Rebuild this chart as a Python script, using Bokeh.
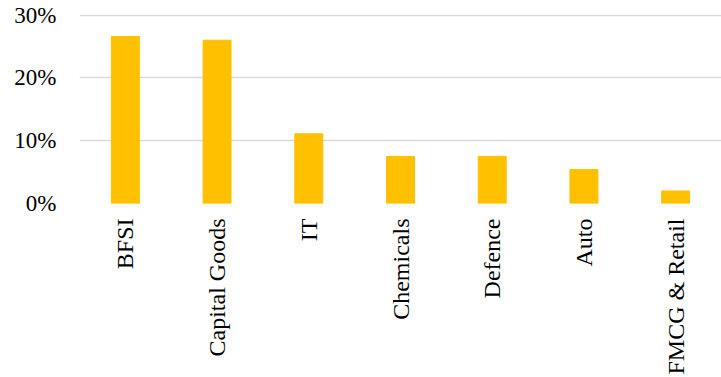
import math
from bokeh.plotting import figure
from bokeh.models import ColumnDataSource, FixedTicker, NumeralTickFormatter, Range1d
from bokeh.embed import file_html
from bokeh.resources import INLINE

sectors = ["BFSI", "Capital Goods", "IT", "Chemicals", "Defence", "Auto", "FMCG & Retail"]
shares = [0.266, 0.260, 0.111, 0.075, 0.075, 0.054, 0.020]
y_ticks = [0.0, 0.1, 0.2, 0.3]

source = ColumnDataSource(data=dict(sector=sectors, share=shares))

p = figure(x_range=sectors, y_range=Range1d(0, 0.301), width=721, height=377,
           output_backend="svg", toolbar_location=None,
           min_border_left=79, min_border_right=0, min_border_top=14, min_border_bottom=0)
p.vbar(x="sector", top="share", width=0.305, source=source,
       fill_color="#FFC000", line_color="#FFC000")

p.x_range.range_padding = 0
p.outline_line_color = None
p.background_fill_color = "white"
p.border_fill_color = "white"

p.xgrid.grid_line_color = None
p.ygrid.grid_line_color = "#d9d9d9"
p.ygrid.grid_line_width = 1.5
p.yaxis.ticker = FixedTicker(ticks=y_ticks)
p.yaxis.formatter = NumeralTickFormatter(format="0%")

for ax in (p.xaxis, p.yaxis):
    ax.axis_line_color = None
    ax.major_tick_line_color = None
    ax.minor_tick_line_color = None
    ax.major_tick_out = 0
    ax.major_tick_in = 0
    ax.major_label_text_font = "Liberation Serif"
    ax.major_label_text_color = "#000000"

p.xaxis.major_label_text_font_size = "24px"
p.yaxis.major_label_text_font_size = "23px"
p.yaxis.major_label_standoff = 23
p.xaxis.major_label_standoff = 15
p.xaxis.major_label_orientation = math.pi / 2

open("out.html", "w").write(file_html(p, INLINE))
